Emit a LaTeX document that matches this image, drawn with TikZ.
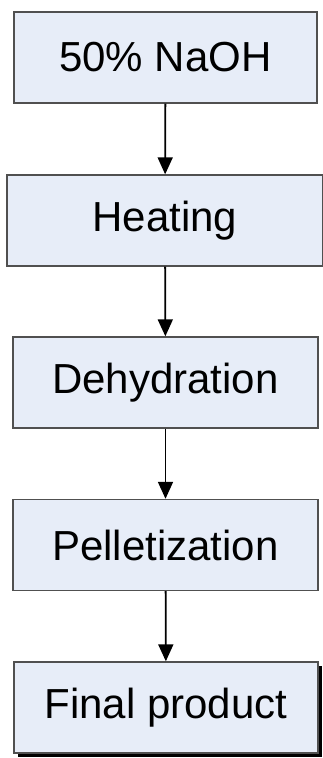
\documentclass[tikz,border=0pt]{standalone}
\usepackage{fontspec}
\setmainfont{Liberation Sans}
\usetikzlibrary{arrows.meta,shadows}

\definecolor{boxfill}{HTML}{E7EDF8}
\definecolor{boxline}{HTML}{505050}

\begin{document}
\begin{tikzpicture}[x=1pt,y=-1pt]
\tikzset{stepbox/.style = {shape=rectangle,draw=boxline,fill=boxfill,line width=1.4pt,
    minimum height=91pt,inner sep=0pt,font=\fontsize{42}{50}\selectfont},
  edge/.style = {line width=1.8pt,-{Triangle[width=15pt,length=17pt]}}}
\useasboundingbox (0,0) rectangle (322,758);

\node[stepbox,minimum width=303pt] (N) at (165.5,57.5) {50\% NaOH};
\node[stepbox,minimum width=316pt] (H) at (165,220.5) {Heating};
\node[stepbox,minimum width=305pt] (D) at (165.5,382.5) {Dehydration};
\node[stepbox,minimum width=305pt] (P) at (165.5,545) {Pelletization};
\node[stepbox,minimum width=304pt,drop shadow={shadow xshift=4pt,shadow yshift=-4pt,opacity=1,fill=black}] (F) at (166,707.5) {Final product};

\path [edge] (N) edge (H);
\path [edge] (H) edge (D);
\path [edge] (D) edge (P);
\path [edge] (P) edge (F);
\end{tikzpicture}
\end{document}
